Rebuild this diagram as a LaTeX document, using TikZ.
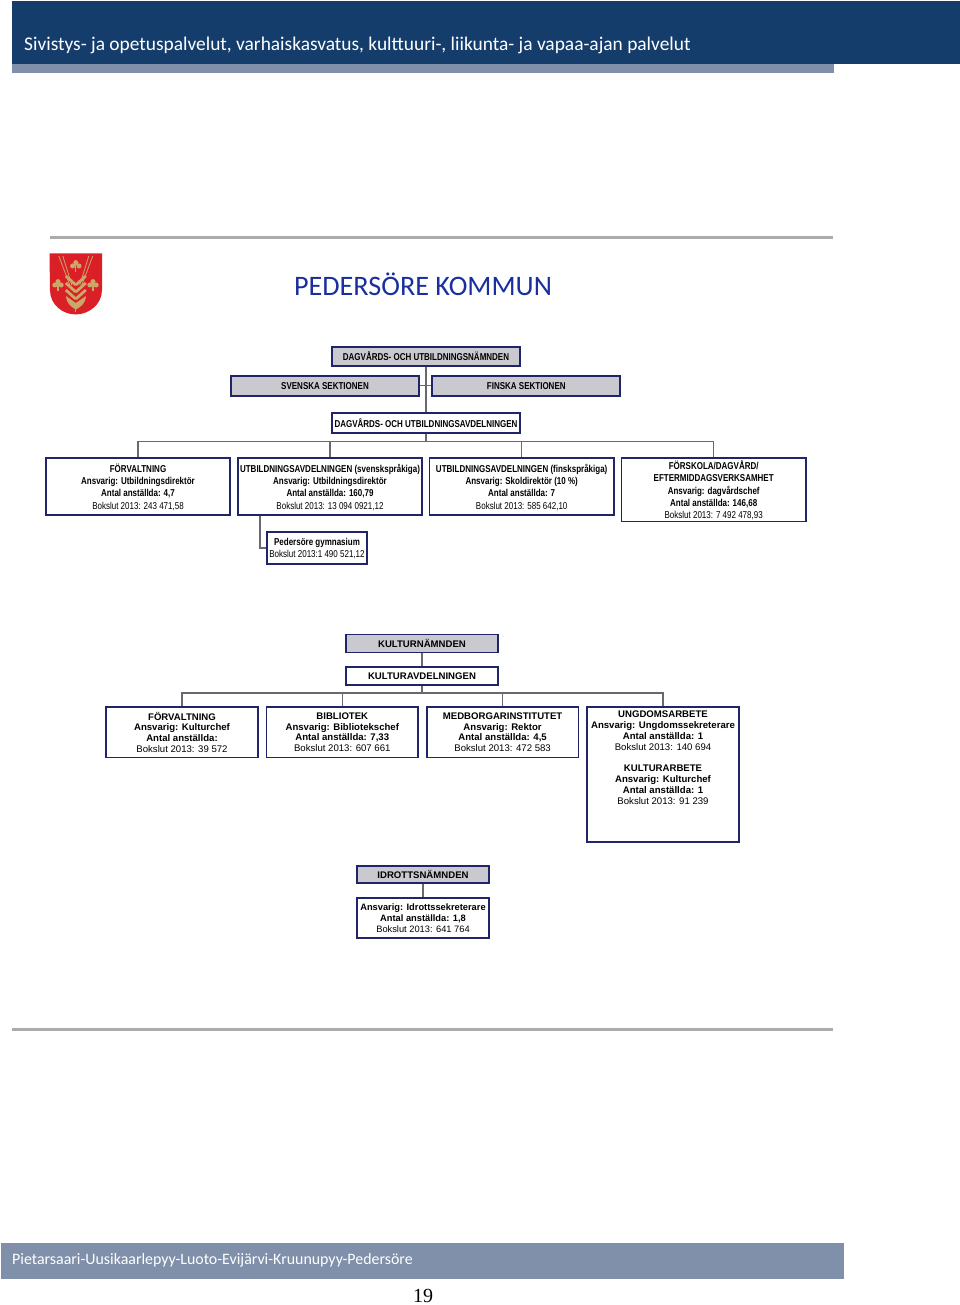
\documentclass[tikz,border=0pt]{standalone}
\usepackage{fontspec}
\setmainfont{Liberation Sans}
\newfontfamily\headfont{Carlito}
\newfontfamily\pagefont{Liberation Serif}
\newfontfamily\narrowfont[FakeStretch=0.8]{Liberation Sans}
\definecolor{navyband}{HTML}{153D6B}
\definecolor{greyband}{HTML}{8090AA}
\definecolor{rulegrey}{HTML}{ABABAB}
\definecolor{boxline}{HTML}{1F2568}
\definecolor{boxgrey}{HTML}{C9C9CF}
\definecolor{connline}{HTML}{666A70}
\definecolor{titleblue}{HTML}{1A2F9E}
\definecolor{crestred}{HTML}{DA1F26}
\definecolor{crestgold}{HTML}{C9A86A}
\tikzset{
	conn/.style={draw=connline,line width=1.4pt},
	boxbase/.style={draw=boxline,line width=1.7pt,fill=white,inner sep=0pt,align=center,text=black},
	boxa/.style={boxbase,text depth=0pt,font=\narrowfont\fontsize{10}{12.3}\selectfont},
	boxb/.style={boxbase,font=\fontsize{9.6}{10.8}\selectfont},
	greya/.style={boxa,fill=boxgrey},
	greyb/.style={boxb,fill=boxgrey},
	clover/.pic={
		\fill[crestgold] (0,-3.4) circle(2.5) (-3.2,0) circle(2.5) (3.2,0) circle(2.5);
		\draw[crestgold,line width=1.2pt] (0,-2) -- (0,6.5);
	}
}
\begin{document}
\begin{tikzpicture}[x=1pt,y=-1pt]
	\useasboundingbox (0,0) rectangle (960,1305);
	% page frame
	\fill[navyband] (12,1) rectangle (960,64);
	\fill[greyband] (12,64) rectangle (834,73);
	\fill[greyband] (1,1243) rectangle (844,1279);
	\draw[rulegrey,line width=3pt] (50,237.5) -- (833,237.5);
	\draw[rulegrey,line width=3pt] (12,1029) -- (833,1029);
	\node[text=white,anchor=west,inner sep=0pt,font=\headfont\fontsize{19.4}{22}\selectfont] (headtext) at (24,45) {Sivistys- ja opetuspalvelut, varhaiskasvatus, kulttuuri-, liikunta- ja vapaa-ajan palvelut};
	\node[text=white,anchor=west,inner sep=0pt,font=\headfont\fontsize{15.9}{18}\selectfont] (foottext) at (12,1260) {Pietarsaari-Uusikaarlepyy-Luoto-Evijärvi-Kruunupyy-Pedersöre};
	\node[inner sep=0pt,font=\pagefont\fontsize{20}{22}\selectfont] (pagenum) at (423,1296) {19};
	\node[text=titleblue,inner sep=0pt,font=\headfont\fontsize{28.2}{30}\selectfont] (title) at (423,284) {PEDERSÖRE KOMMUN};
	% crest
	\fill[crestred] (49.5,253.5) -- (102,253.5) -- (102,290) .. controls (102,305) and (88,314.5) .. (75.8,314.5) .. controls (63,314.5) and (50,305) .. (50,290) -- cycle;
	\foreach \x in {-1,1} {
		\draw[crestgold,line width=0.8pt] (75.8+\x*17,256) -- (75.8+\x*6,285);
		\draw[crestgold,line width=0.8pt] (75.8+\x*13,256) -- (75.8+\x*4,285);
		\foreach \y in {282,289,296} {
			\draw[crestgold,line width=2.8pt] (75.8+\x*10,\y-6) -- (75.8,\y+3);
		}
	}
	\fill[crestgold] (66,296) .. controls (67,305) and (72,307) .. (75.8,309.5) .. controls (80,307) and (85,305) .. (86,296) -- (75.8,303) -- cycle;
	\draw[crestgold,line width=0.8pt] (75.8,306) -- (75.8,312);
	\pic at (75.8,266) {clover};
	\pic at (58,285) {clover};
	\pic at (93,285) {clover};
	\coordinate (busa) at (426,441.5);
	\coordinate (busb) at (422,693);
	\coordinate (gymcorner) at (260,548);
	% nodes
	\node[greya,minimum width=188pt,minimum height=19pt] (namnd) at (426,356.5) {\textbf{DAGVÅRDS- OCH UTBILDNINGSNÄMNDEN}};
	\node[greya,minimum width=188pt,minimum height=20pt] (svenska) at (325,385.7) {\textbf{SVENSKA SEKTIONEN}};
	\node[greya,minimum width=188pt,minimum height=20pt] (finska) at (526.3,385.7) {\textbf{FINSKA SEKTIONEN}};
	\node[boxa,minimum width=188pt,minimum height=20pt] (avd) at (426,423) {\textbf{DAGVÅRDS- OCH UTBILDNINGSAVDELNINGEN}};
	\node[boxa,minimum width=184.5pt,minimum height=57pt] (forv) at (138,486.5) {\textbf{FÖRVALTNING}\\\textbf{Ansvarig: Utbildningsdirektör}\\\textbf{Antal anställda: 4,7}\\Bokslut 2013: 243 471,58};
	\node[boxa,minimum width=184.5pt,minimum height=57pt] (utbsv) at (330,486.5) {\textbf{UTBILDNINGSAVDELNINGEN (svenskspråkiga)}\\\textbf{Ansvarig: Utbildningsdirektör}\\\textbf{Antal anställda: 160,79}\\Bokslut 2013: 13 094 0921,12};
	\node[boxa,minimum width=184.5pt,minimum height=57pt] (utbfi) at (521.7,486.5) {\textbf{UTBILDNINGSAVDELNINGEN (finskspråkiga)}\\\textbf{Ansvarig: Skoldirektör (10 \%)}\\\textbf{Antal anställda: 7}\\Bokslut 2013: 585 642,10};
	\node[boxa,minimum width=184.5pt,minimum height=63.5pt] (forskola) at (713.7,489.7) {\textbf{FÖRSKOLA/DAGVÅRD/}\\\textbf{EFTERMIDDAGSVERKSAMHET}\\\textbf{Ansvarig: dagvårdschef}\\\textbf{Antal anställda: 146,68}\\Bokslut 2013: 7 492 478,93};
	\node[boxa,minimum width=100pt,minimum height=32pt] (gym) at (317,548) {\textbf{Pedersöre gymnasium}\\Bokslut 2013:1 490 521,12};
	\node[greyb,minimum width=152pt,minimum height=18pt] (kulturn) at (422,643.5) {\textbf{KULTURNÄMNDEN}};
	\node[boxb,minimum width=152pt,minimum height=18pt] (kultura) at (422,676) {\textbf{KULTURAVDELNINGEN}};
	\node[boxb,minimum width=151.5pt,minimum height=50.5pt] (kforv) at (182,732.2) {\textbf{FÖRVALTNING}\\\textbf{Ansvarig: Kulturchef}\\\textbf{Antal anställda:}\\Bokslut 2013: 39 572};
	\node[boxb,minimum width=151.5pt,minimum height=50.5pt] (bibl) at (342.3,732.2) {\textbf{BIBLIOTEK}\\\textbf{Ansvarig: Bibliotekschef}\\\textbf{Antal anställda: 7,33}\\Bokslut 2013: 607 661};
	\node[boxb,minimum width=151.5pt,minimum height=50.5pt] (medb) at (502.6,732.2) {\textbf{MEDBORGARINSTITUTET}\\\textbf{Ansvarig: Rektor}\\\textbf{Antal anställda: 4,5}\\Bokslut 2013: 472 583};
	\node[boxb,minimum width=151.5pt,minimum height=135pt] (ungdom) at (663,774.5) {\textbf{UNGDOMSARBETE}\\\textbf{Ansvarig: Ungdomssekreterare}\\\textbf{Antal anställda: 1}\\Bokslut 2013: 140 694\\[11pt]\textbf{KULTURARBETE}\\\textbf{Ansvarig: Kulturchef}\\\textbf{Antal anställda: 1}\\Bokslut 2013: 91 239\\[23pt]~};
	\node[greyb,minimum width=132pt,minimum height=17pt] (idrott) at (423,874.5) {\textbf{IDROTTSNÄMNDEN}};
	\node[boxb,minimum width=132pt,minimum height=40pt,font=\fontsize{9.3}{10.8}\selectfont] (idrottb) at (423,918) {\textbf{Ansvarig: Idrottssekreterare}\\\textbf{Antal anställda: 1,8}\\Bokslut 2013: 641 764};
	% connectors
	\draw[conn] (namnd) -- (avd);
	\draw[conn] (svenska) -- (finska);
	\draw[conn] (avd) -- (busa);
	\foreach \n in {forv,utbsv,utbfi,forskola} {
		\draw[conn] (busa) -| (\n.north);
	}
	\draw[conn] (utbsv.south -| gymcorner) -- (gymcorner) -- (gym.west);
	\draw[conn] (kulturn) -- (kultura);
	\draw[conn] (kultura) -- (busb);
	\foreach \n in {kforv,bibl,medb,ungdom} {
		\draw[conn] (busb) -| (\n.north);
	}
	\draw[conn] (idrott) -- (idrottb);
\end{tikzpicture}
\end{document}
